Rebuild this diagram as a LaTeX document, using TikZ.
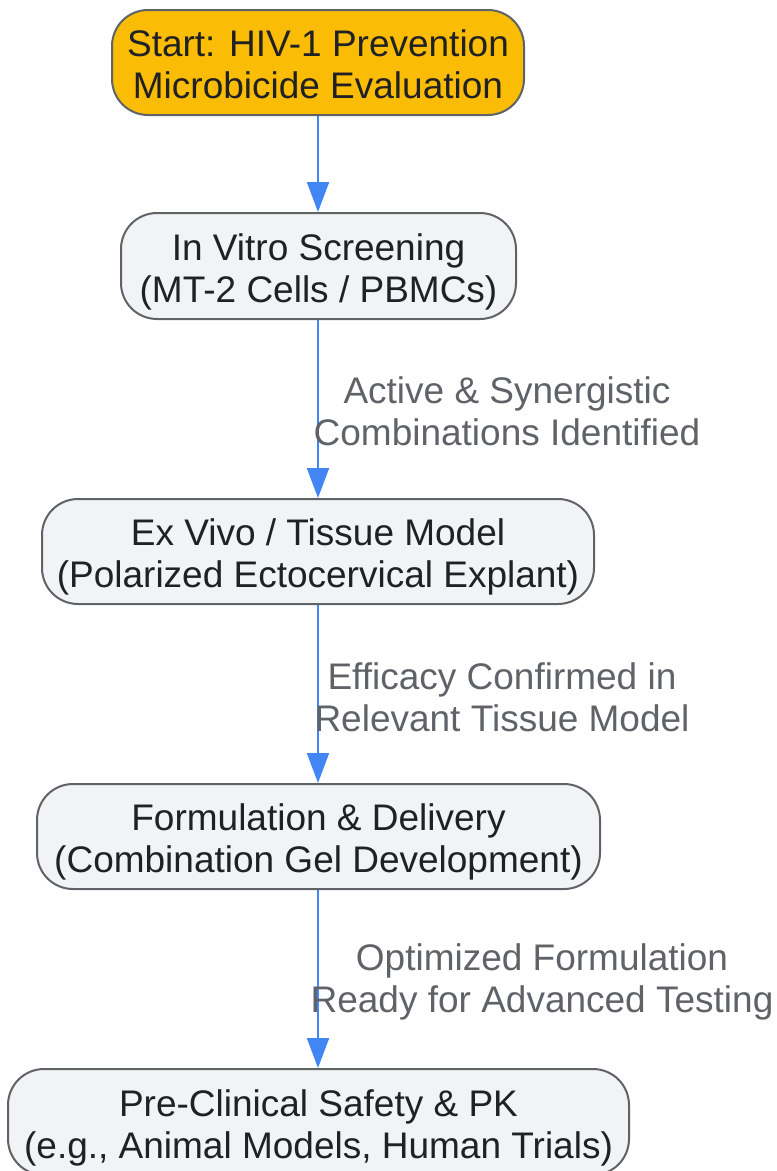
\documentclass[tikz,border=0pt]{standalone}
\usepackage{fontspec}
\setmainfont{Liberation Sans}
\usetikzlibrary{arrows.meta}
\definecolor{startfill}{HTML}{FBBC05}
\definecolor{boxfill}{HTML}{F1F3F4}
\definecolor{boxline}{HTML}{5F6368}
\definecolor{textdark}{HTML}{202124}
\definecolor{labelgray}{HTML}{5F6368}
\definecolor{arrowblue}{HTML}{4285F4}
\newcommand{\twolines}[2]{\raisebox{-7pt}[\height][\depth]{\begin{tabular}{@{}c@{}}#1\\#2\end{tabular}}}
\tikzset{
  box/.style={draw=boxline, line width=2pt, fill=boxfill, rounded corners=36pt,
    align=center, text=textdark, inner sep=0pt,
    font=\fontsize{37}{42}\selectfont},
  startbox/.style={box, fill=startfill},
  edgelabel/.style={align=center, text=labelgray, inner sep=0pt,
    font=\fontsize{37}{42}\selectfont},
  flow/.style={draw=arrowblue, line width=2pt, -{Triangle[length=30pt,width=22pt]}}
}
\begin{document}
\begin{tikzpicture}[x=1pt,y=-1pt]
\useasboundingbox (0,0) rectangle (777,1171);
\node[startbox, minimum width=412pt, minimum height=105pt] (start) at (318,62.5)
  {\twolines{Start: HIV-1 Prevention}{Microbicide Evaluation}};
\node[box, minimum width=395pt, minimum height=106pt] (vitro) at (318.5,266)
  {\twolines{In Vitro Screening}{(MT-2 Cells / PBMCs)}};
\node[box, minimum width=552pt, minimum height=105pt] (vivo) at (318,551.5)
  {\twolines{Ex Vivo / Tissue Model}{(Polarized Ectocervical Explant)}};
\node[box, minimum width=563pt, minimum height=105pt] (form) at (318.5,836.5)
  {\twolines{Formulation \& Delivery}{(Combination Gel Development)}};
\node[box, minimum width=621pt, minimum height=106pt] (pre) at (318.5,1122)
  {\twolines{Pre-Clinical Safety \& PK}{(e.g., Animal Models, Human Trials)}};
\draw[flow] (start.south -| 318,0) -- (vitro.north -| 318,0);
\draw[flow] (vitro.south -| 318,0) -- (vivo.north -| 318,0);
\draw[flow] (vivo.south -| 318,0) -- (form.north -| 318,0);
\draw[flow] (form.south -| 318,0) -- (pre.north -| 318,0);
\node[edgelabel] (l1) at (507,411) {Active \& Synergistic\\Combinations Identified};
\node[edgelabel] (l2) at (502,697) {Efficacy Confirmed in\\Relevant Tissue Model};
\node[edgelabel] (l3) at (542,981.5) {Optimized Formulation\\Ready for Advanced Testing};
\end{tikzpicture}
\end{document}
